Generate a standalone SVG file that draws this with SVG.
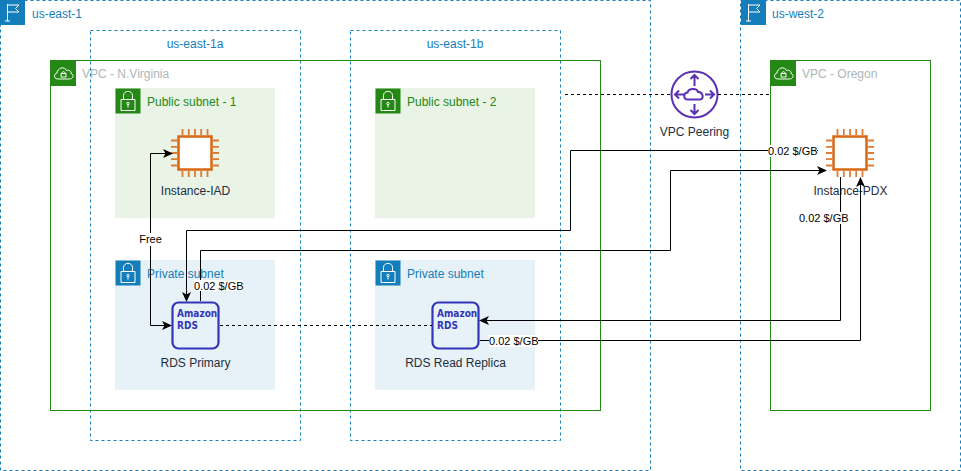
<svg xmlns="http://www.w3.org/2000/svg" width="961" height="471" viewBox="0 0 961 471">
<style>
text{font-family:"Liberation Sans",Arial,Helvetica,sans-serif;font-size:12px}
.region{fill:none;stroke:#147eba;stroke-dasharray:3 3}
.vpc{fill:none;stroke:#248814}
.pub{fill:#e9f3e6}
.priv{fill:#e6f2f8}
.blue{fill:#147eba}
.green{fill:#248814}
.grey{fill:#aab7b8}
.dark{fill:#232f3e}
.blk{fill:#000;font-size:11px}
.mid{text-anchor:middle}
.ic{fill:none;stroke:#fff;stroke-width:1}
.conn{fill:none;stroke:#000}
.dash{stroke-dasharray:3 3}
.chip{fill:#fff;stroke:#d86613;stroke-width:2.500}
.pins{fill:none;stroke:#d86613;stroke-width:1.800;opacity:.85}
.rds{fill:none;stroke:#3334b9;stroke-width:2.200}
text.rdst{fill:#3334b9;font-family:"DejaVu Sans Condensed","DejaVu Sans",sans-serif;font-weight:bold;font-size:10px}
.peer{fill:none;stroke:#5a30b5;stroke-width:2}
.lbl{fill:#fff}
</style>
<defs>
<marker id="arr" viewBox="0 0 10 10" refX="9" refY="5" markerWidth="10" markerHeight="10" markerUnits="userSpaceOnUse" orient="auto-start-reverse"><path d="M0 0.500L10 5L0 9.500L2.500 5Z" fill="#000"/></marker>
<g id="flag"><rect width="25" height="25" class="blue"/><path class="ic" d="M7.500 21V4M7.500 5H19L15.500 8.500L19 12H7.500M5 21H10"/></g>
<g id="cloud"><rect width="25" height="25" class="green"/><path class="ic" d="M7 18C2.500 18 2.500 12.500 6 12C6.500 6.500 13.500 5 15.500 9.500C19 8.500 20.500 11 20 12.500C23 13 23 18 18.500 18ZM10 16H15V12.500H10ZM11 12.500C11 10 14 10 14 12.500"/></g>
<g id="lockg"><rect width="25" height="25" class="green"/><path class="ic" d="M5.500 11H19.500V22H5.500ZM8 11V7C8 1.500 17 1.500 17 7V11M12.500 16V19"/><circle class="ic" cx="12.500" cy="15" r="1.200"/></g>
<g id="lockb"><rect width="25" height="25" class="blue"/><path class="ic" d="M5.500 11H19.500V22H5.500ZM8 11V7C8 1.500 17 1.500 17 7V11M12.500 16V19"/><circle class="ic" cx="12.500" cy="15" r="1.200"/></g>
<g id="chip"><rect class="chip" x="7.500" y="7.500" width="33" height="33"/><path class="pins" d="M11.500 0V6M17.800 0V6M24 0V6M30.200 0V6M36.500 0V6M11.500 42V48M17.800 42V48M24 42V48M30.200 42V48M36.500 42V48M0 11.500H6M0 17.800H6M0 24H6M0 30.200H6M0 36.500H6M42 11.500H48M42 17.800H48M42 24H48M42 30.200H48M42 36.500H48"/></g>
<g id="rds"><rect class="rds" x="0" y="0" width="46" height="46" rx="6"/><text class="rdst" x="4.500" y="14">Amazon</text><text class="rdst" x="4.500" y="26">RDS</text></g>
</defs>
<g id="region-east"><rect class="region" x="0.500" y="0.500" width="650" height="470"/><use href="#flag" x="0" y="0"/><text class="blue" x="32" y="18">us-east-1</text></g>
<g id="region-west"><rect class="region" x="740.500" y="0.500" width="220" height="470"/><use href="#flag" x="741" y="0"/><text class="blue" x="772" y="18">us-west-2</text></g>
<g id="az-1a"><rect class="region" x="90.500" y="30.500" width="210" height="410"/><text class="blue mid" x="195" y="48">us-east-1a</text></g>
<g id="az-1b"><rect class="region" x="350.500" y="30.500" width="210" height="410"/><text class="blue mid" x="455" y="48">us-east-1b</text></g>
<g id="vpc-virginia"><rect class="vpc" x="50.500" y="60.500" width="550" height="350"/><use href="#cloud" x="51" y="61"/><text class="grey" x="82" y="78">VPC - N.Virginia</text></g>
<g id="vpc-oregon"><rect class="vpc" x="770.500" y="60.500" width="160" height="350"/><use href="#cloud" x="771" y="61"/><text class="grey" x="802" y="78">VPC - Oregon</text></g>
<g id="subnet-public-1"><rect class="pub" x="115" y="88" width="160" height="130"/><use href="#lockg" x="115.500" y="88.500"/><text class="green" x="147" y="106">Public subnet - 1</text></g>
<g id="subnet-public-2"><rect class="pub" x="375" y="88" width="160" height="130"/><use href="#lockg" x="375.500" y="88.500"/><text class="green" x="407" y="106">Public subnet - 2</text></g>
<g id="subnet-private-1"><rect class="priv" x="115" y="260" width="160" height="130"/><use href="#lockb" x="115.500" y="260.500"/><text class="blue" x="147" y="278">Private subnet</text></g>
<g id="subnet-private-2"><rect class="priv" x="375" y="260" width="160" height="130"/><use href="#lockb" x="375.500" y="260.500"/><text class="blue" x="407" y="278">Private subnet</text></g>
<g id="instance-iad"><use href="#chip" x="171" y="129"/><text class="dark mid" x="195.500" y="195">Instance-IAD</text></g>
<g id="rds-primary"><use href="#rds" x="172.500" y="302.500"/><text class="dark mid" x="195.500" y="367">RDS Primary</text></g>
<g id="rds-replica"><use href="#rds" x="432.500" y="302.500"/><text class="dark mid" x="455.500" y="367">RDS Read Replica</text></g>
<g id="instance-pdx"><use href="#chip" x="826" y="129"/><text class="dark mid" x="850.500" y="195">Instance-PDX</text></g>
<g id="vpc-peering"><circle class="peer" cx="694.500" cy="94.500" r="23"/><path class="peer" d="M694.500 75V86M690.500 79L694.500 75L698.500 79M694.500 114V104M690.500 110L694.500 114L698.500 110M675 94.500H684M679 90.500L675 94.500L679 98.500M714 94.500H705M710 90.500L714 94.500L710 98.500M688 99.500C683 99.500 683 93 687.500 92.500C689 88 697 88 698 92C703 91.500 704.500 99.500 700 99.500Z"/><text class="dark mid" x="694.500" y="136">VPC Peering</text></g>
<g id="connectors">
<path class="conn" marker-start="url(#arr)" marker-end="url(#arr)" d="M172 153.500H150.500V325.500H171"/>
<path class="conn" marker-end="url(#arr)" d="M818 150.500H570.500V230.500H186.500V301"/>
<path class="conn" marker-end="url(#arr)" d="M200.500 301V250.500H670.500V170.500H826"/>
<path class="conn" marker-end="url(#arr)" d="M840.500 177V320.500H480"/>
<path class="conn" marker-end="url(#arr)" d="M480 340.500H860.500V178"/>
<path class="conn dash" d="M220 325.500H432"/>
<path class="conn dash" d="M565 94.500H671M718 94.500H770"/>
</g>
<g id="connector-labels">
<rect class="lbl" x="139" y="233" width="23" height="13"/><text class="blk mid" x="150.500" y="243">Free</text>
<rect class="lbl" x="194" y="280" width="49" height="11"/><text class="blk" x="194" y="289.500">0.02 $/GB</text>
<rect class="lbl" x="768" y="145" width="49" height="12"/><text class="blk" x="768" y="155">0.02 $/GB</text>
<rect class="lbl" x="799" y="212" width="49" height="12"/><text class="blk" x="799" y="222">0.02 $/GB</text>
<rect class="lbl" x="489" y="335" width="49" height="12"/><text class="blk" x="489" y="345">0.02 $/GB</text>
</g>
</svg>
